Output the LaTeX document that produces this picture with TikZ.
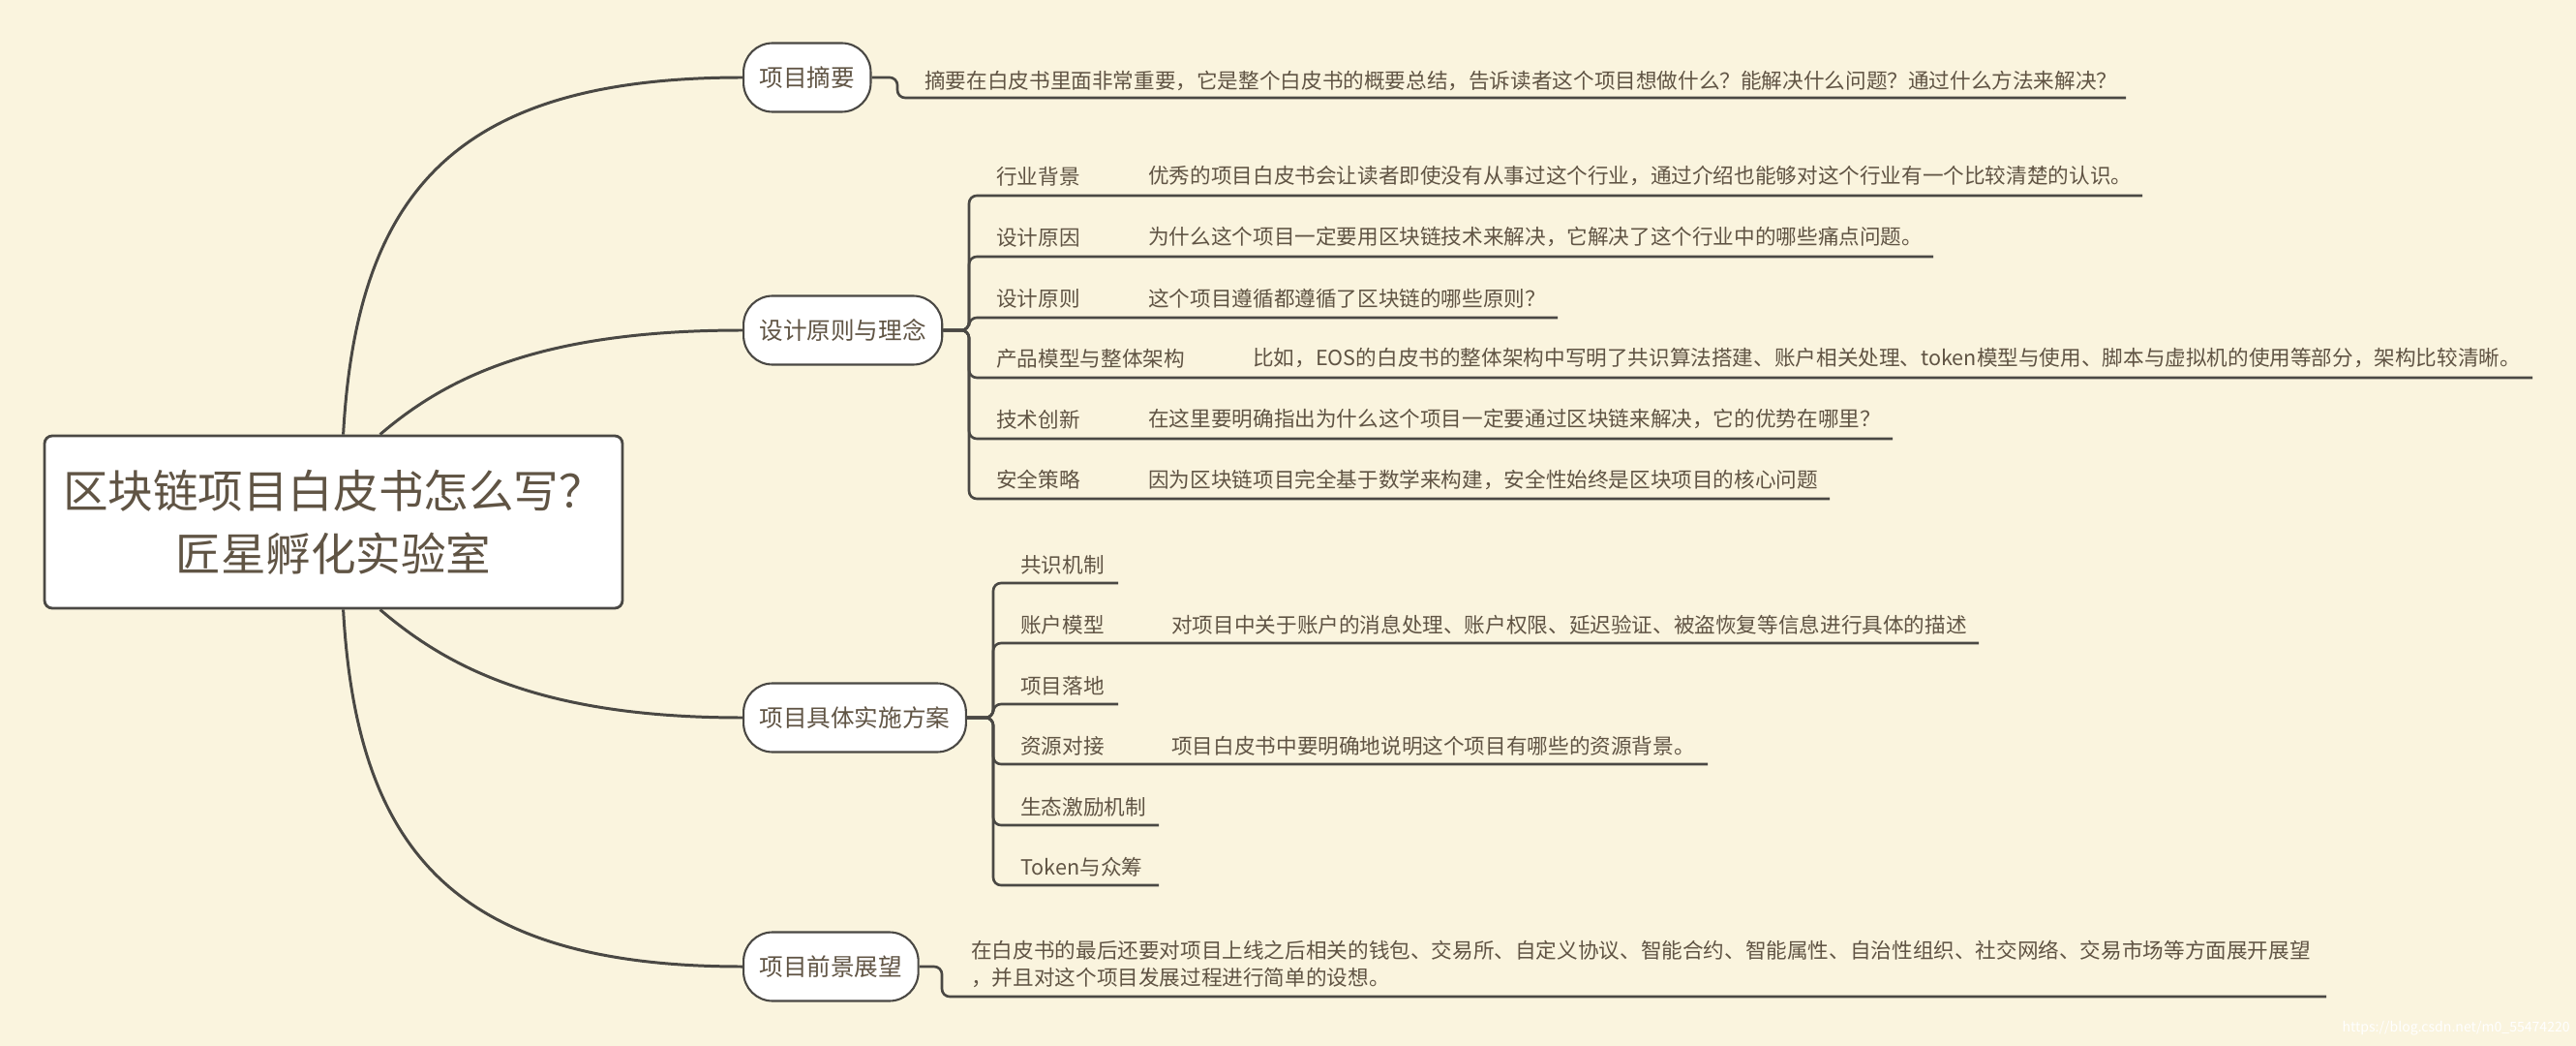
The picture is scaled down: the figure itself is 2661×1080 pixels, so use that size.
\documentclass[tikz,border=0pt]{standalone}
\usepackage{fontspec}
\setmainfont{Noto Sans CJK SC}
\usepackage{xcolor}
\usepackage{tikz}
\usetikzlibrary{positioning,calc}
\definecolor{bgcream}{RGB}{250,244,222}
\definecolor{inkbrown}{RGB}{96,84,68}
\definecolor{linegray}{RGB}{74,72,68}

\begin{document}
\begin{tikzpicture}[
  x=0.2mm, y=-0.2mm,
  root/.style={draw=linegray, line width=1.6pt, fill=white, rounded corners=1.6mm,
               minimum width=119.4mm, minimum height=35.6mm, align=center,
               text=inkbrown, font=\fontsize{26.5}{37}\selectfont},
  topic/.style={draw=linegray, line width=1.2pt, fill=white, rounded corners=6mm,
                minimum height=14.2mm, inner xsep=3.3mm, anchor=west,
                text=inkbrown, font=\fontsize{14}{17}\selectfont},
  leaf/.style={inner sep=0pt, anchor=west, text=inkbrown,
               font=\fontsize{12.3}{16}\selectfont},
  limb/.style={draw=linegray, line width=1.7pt},
  twig/.style={draw=linegray, line width=1.5pt, rounded corners=1.6mm}
]
  % Background
  \fill[bgcream] (0,0) rectangle (2661,1080);
  \useasboundingbox (0,0) rectangle (2661,1080);

  % Central topic and main branches
  \node[root]  (root)     at (344.5,539) {区块链项目白皮书怎么写？\\匠星孵化实验室};
  \node[topic] (zhaiyao)  at (767,80)  {项目摘要};
  \node[topic] (sheji)    at (767,341) {设计原则与理念};
  \node[topic] (shishi)   at (767,741) {项目具体实施方案};
  \node[topic] (qianjing) at (767,998) {项目前景展望};

  % Curved limbs
  \draw[limb] ($(root.north west)+(310,0)$) .. controls +(14,-250) and +(-297,0) .. (zhaiyao.west);
  \draw[limb] ($(root.north west)+(348,0)$) .. controls +(70,-60) and +(-207,0) .. (sheji.west);
  \draw[limb] ($(root.south west)+(348,0)$) .. controls +(70,60) and +(-207,0) .. (shishi.west);
  \draw[limb] ($(root.south west)+(310,0)$) .. controls +(14,250) and +(-297,0) .. (qianjing.west);

  % Summary
  \node[leaf] (zhaiyaotxt) at (955,83)
    {摘要在白皮书里面非常重要，它是整个白皮书的概要总结，告诉读者这个项目想做什么？能解决什么问题？通过什么方法来解决？};
  \draw[twig] (zhaiyao.east) -- (927,80) -- (927,101) -- (2196,101);

  % Design principles
  \foreach \lab/\desc/\dx/\yy/\xe [count=\i] in {
      行业背景/优秀的项目白皮书会让读者即使没有从事过这个行业，通过介绍也能够对这个行业有一个比较清楚的认识。/1186/182/2213,
      设计原因/为什么这个项目一定要用区块链技术来解决，它解决了这个行业中的哪些痛点问题。/1186/245/1997,
      设计原则/这个项目遵循都遵循了区块链的哪些原则？/1186/308/1609,
      产品模型与整体架构/比如，EOS的白皮书的整体架构中写明了共识算法搭建、账户相关处理、token模型与使用、脚本与虚拟机的使用等部分，架构比较清晰。/1294/370/2616,
      技术创新/在这里要明确指出为什么这个项目一定要通过区块链来解决，它的优势在哪里？/1186/433/1955,
      安全策略/因为区块链项目完全基于数学来构建，安全性始终是区块项目的核心问题/1186/495/1890}
  {
    \node[leaf] (sj\i)  at (1029,\yy) {\lab};
    \node[leaf] (sjd\i) at (\dx,\yy)  {\desc};
    \draw[twig] (sheji.east) -- (1001,341) -- (1001,\yy+20) -- (\xe,\yy+20);
  }

  % Implementation plan
  \foreach \lab/\yy/\xe [count=\i] in {
      共识机制/583/1155, 账户模型/645/2044, 项目落地/708/1155,
      资源对接/770/1764, 生态激励机制/833/1197, Token与众筹/895/1197}
  {
    \node[leaf] (ss\i) at (1054,\yy) {\lab};
    \draw[twig] (shishi.east) -- (1026,741) -- (1026,\yy+19) -- (\xe,\yy+19);
  }
  \node[leaf] (ssd2) at (1210,645) {对项目中关于账户的消息处理、账户权限、延迟验证、被盗恢复等信息进行具体的描述};
  \node[leaf] (ssd4) at (1210,770) {项目白皮书中要明确地说明这个项目有哪些的资源背景。};

  % Outlook
  \node[leaf, align=left] (qianjingtxt) at (1003,995)
    {在白皮书的最后还要对项目上线之后相关的钱包、交易所、自定义协议、智能合约、智能属性、自治性组织、社交网络、交易市场等方面展开展望\\，并且对这个项目发展过程进行简单的设想。};
  \draw[twig] (qianjing.east) -- (973,998) -- (973,1029) -- (2403,1029);

  % Watermark
  \node[inner sep=0pt, anchor=east, text=white, font=\fontsize{8}{9}\selectfont] (mark)
    at (2655,1062) {https://blog.csdn.net/m0\_55474220};
\end{tikzpicture}
\end{document}
